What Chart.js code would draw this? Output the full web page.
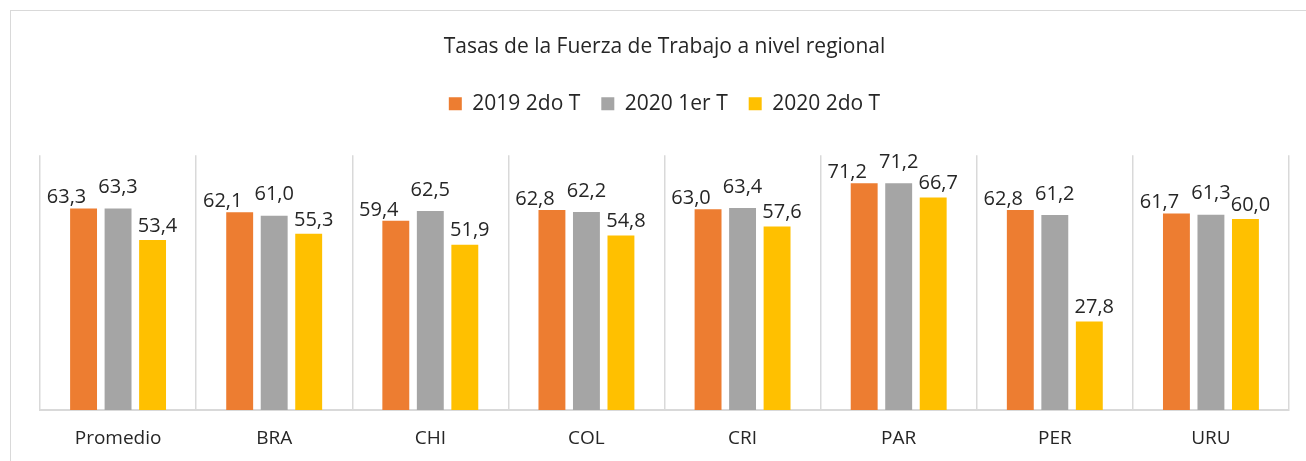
<!DOCTYPE html>
<html>
<head>
<meta charset="utf-8">
<script src="https://cdn.jsdelivr.net/npm/chart.js@4/dist/chart.umd.min.js"></script>
<style>
  html, body { margin: 0; padding: 0; background: #fff; overflow: hidden; }
  #frame { position: absolute; left: 10px; top: 10px; width: 1320px; height: 480px; border: 1px solid #d9d9d9; }
  #wrap { position: absolute; left: 0; top: 0; width: 1306px; height: 461px; }
</style>
</head>
<body>
<div id="frame"></div>
<div id="wrap"><canvas id="chart" width="1306" height="461"></canvas></div>
<script>
// Categories and series
const categories = ['Promedio', 'BRA', 'CHI', 'COL', 'CRI', 'PAR', 'PER', 'URU'];
const seriesNames = ['2019 2do T', '2020 1er T', '2020 2do T'];
const values2019T2 = [63.3, 62.1, 59.4, 62.8, 63.0, 71.2, 62.8, 61.7];
const values2020T1 = [63.3, 61.0, 62.5, 62.2, 63.4, 71.2, 61.2, 61.3];
const values2020T2 = [53.4, 55.3, 51.9, 54.8, 57.6, 66.7, 27.8, 60.0];

const FONT = '"Open Sans", sans-serif';
const TEXT = '#262626';

// Value labels above bars, spread a little so neighbours don't collide
const barLabels = {
    id: 'barLabels',
    afterDatasetsDraw(chart) {
        const ctx = chart.ctx;
        const shift = [{ dx: -17, dy: 11 }, { dx: 0, dy: 21 }, { dx: 5, dy: 14 }];
        ctx.save();
        ctx.font = '20px ' + FONT;
        ctx.fillStyle = TEXT;
        ctx.textAlign = 'center';
        ctx.textBaseline = 'middle';
        chart.data.datasets.forEach((ds, i) => {
            chart.getDatasetMeta(i).data.forEach((bar, j) => {
                const txt = ds.data[j].toFixed(1).replace('.', ',');
                ctx.fillText(txt, bar.x + shift[i].dx, bar.y - shift[i].dy);
            });
        });
        ctx.restore();
    }
};

// Extra room between the legend and the plot
const legendGap = {
    id: 'legendGap',
    beforeInit(chart) {
        const fit = chart.legend.fit;
        chart.legend.fit = function () {
            fit.bind(chart.legend)();
            this.height += 31;
        };
    }
};

new Chart(document.getElementById('chart'), {
    type: 'bar',
    data: {
        labels: categories,
        datasets: [
            { label: seriesNames[0], data: values2019T2, backgroundColor: '#ED7D31' },
            { label: seriesNames[1], data: values2020T1, backgroundColor: '#A5A5A5' },
            { label: seriesNames[2], data: values2020T2, backgroundColor: '#FFC000' }
        ]
    },
    options: {
        responsive: false,
        animation: false,
        categoryPercentage: 0.663,
        barPercentage: 0.78,
        layout: { padding: { left: 40, right: 17, top: 0, bottom: 0 } },
        plugins: {
            title: {
                display: true,
                text: 'Tasas de la Fuerza de Trabajo a nivel regional',
                color: TEXT,
                font: { family: FONT, size: 21, weight: 'normal' },
                padding: { top: 34, bottom: 13 }
            },
            legend: {
                labels: {
                    color: TEXT,
                    font: { family: FONT, size: 21 },
                    boxWidth: 13,
                    boxHeight: 13,
                    padding: 21
                }
            },
            tooltip: { enabled: false }
        },
        scales: {
            x: {
                grid: { color: '#d9d9d9', lineWidth: 1.5, drawTicks: false, offset: true },
                border: { color: '#d9d9d9', width: 2 },
                ticks: { color: TEXT, font: { family: FONT, size: 19 }, padding: 17 },
                afterFit(scale) { scale.height = 51; }
            },
            y: {
                display: false,
                min: 0,
                max: 80
            }
        }
    },
    plugins: [barLabels, legendGap]
});
</script>
</body>
</html>
